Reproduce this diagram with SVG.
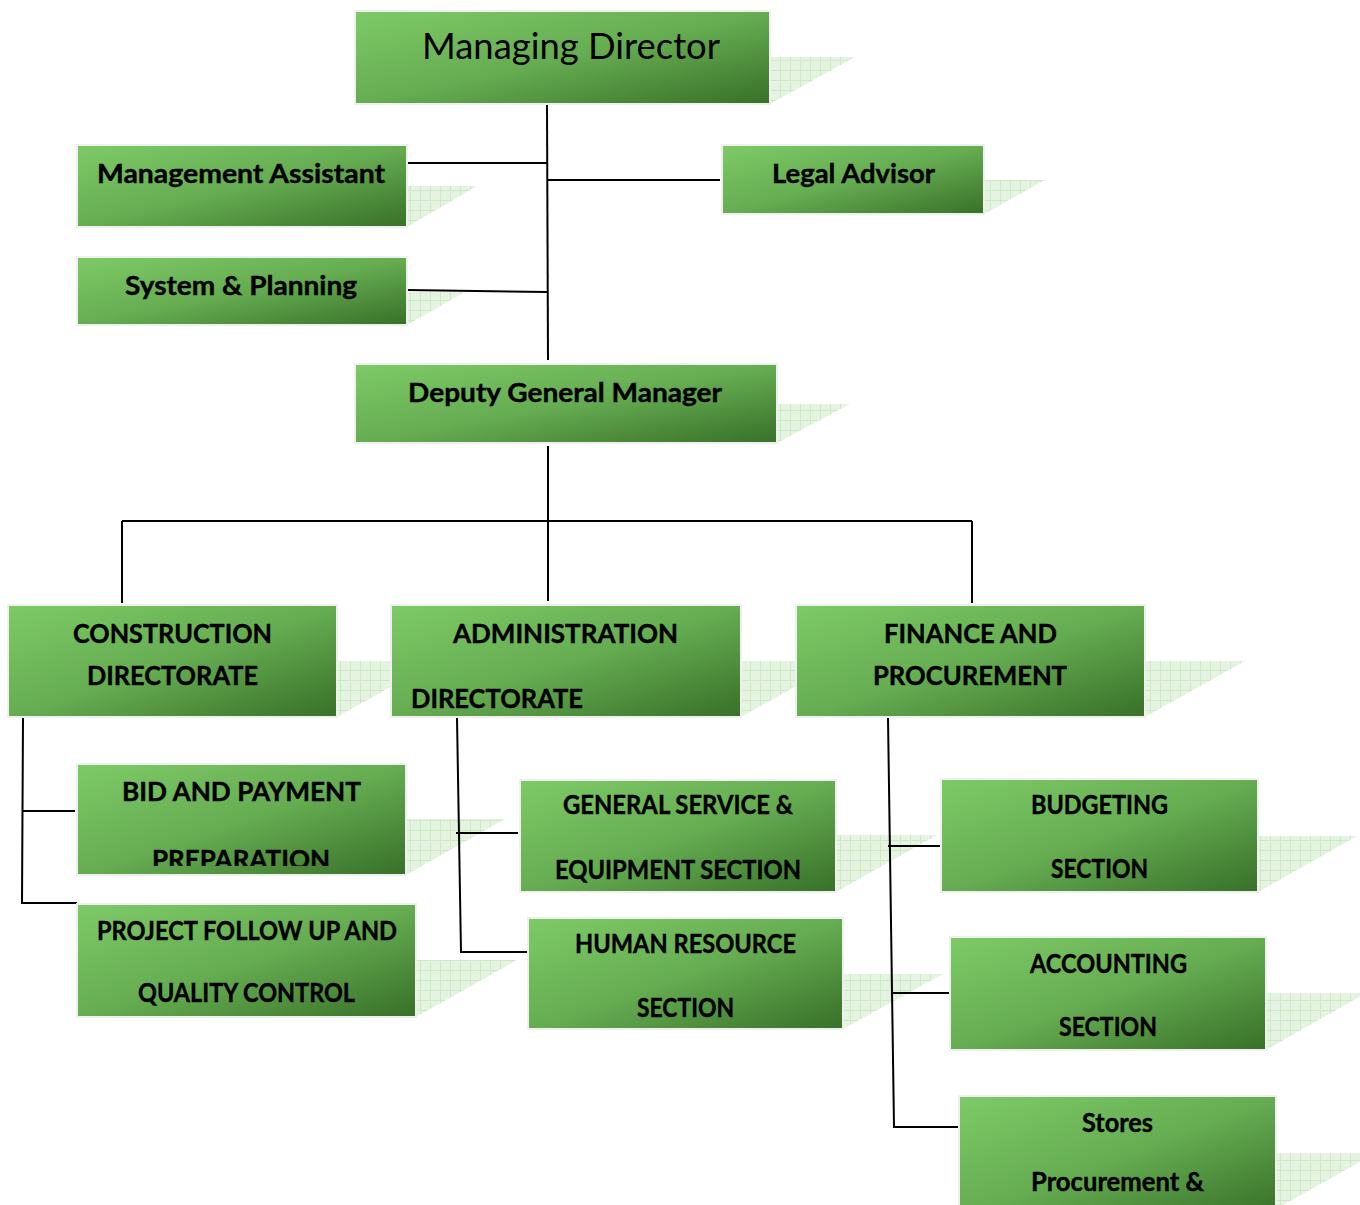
<svg xmlns="http://www.w3.org/2000/svg" width="1360" height="1205" viewBox="0 0 1360 1205">
<defs>
<linearGradient id="g" x1="0" y1="0" x2="1" y2="1">
<stop offset="0" stop-color="#7eca67"/>
<stop offset="0.5" stop-color="#66ad52"/>
<stop offset="1" stop-color="#387028"/>
</linearGradient>
<pattern id="grid" width="10" height="10" patternUnits="userSpaceOnUse">
<rect width="10" height="10" fill="#e5f4e1"/>
<path d="M0 0.5H10M0.5 0V10" stroke="#cfe8c8" stroke-width="1"/>
</pattern>
<clipPath id="clipBid"><rect x="0" y="700" width="500" height="166"/></clipPath>
</defs>
<style>
.box{fill:url(#g);stroke:#efefef;stroke-width:2}
.sh{fill:url(#grid)}
.t{font-family:Lato,"Open Sans","Liberation Sans",sans-serif;font-weight:bold;font-size:26px;fill:#000;stroke:#000;stroke-width:0.4}
.title{font-family:Lato,"Open Sans","Liberation Sans",sans-serif;font-size:36px;fill:#000}
.c{fill:none;stroke:#000;stroke-width:2}
</style>
<g id="shadows">
<polygon class="sh" points="770,57 855,57 770,104"/>
<polygon class="sh" points="407,186 477,186 407,227"/>
<polygon class="sh" points="407,292 465,292 407,325"/>
<polygon class="sh" points="984,180 1045,180 984,214"/>
<polygon class="sh" points="777,404 850,404 777,443"/>
<polygon class="sh" points="337,661 437,661 337,717"/>
<polygon class="sh" points="741,661 841,661 741,717"/>
<polygon class="sh" points="1145,661 1245,661 1145,717"/>
<polygon class="sh" points="406,819 505,819 406,875"/>
<polygon class="sh" points="416,960 517,960 416,1017"/>
<polygon class="sh" points="836,835 937,835 836,892"/>
<polygon class="sh" points="843,974 943,974 843,1029"/>
<polygon class="sh" points="1258,836 1357,836 1258,892"/>
<polygon class="sh" points="1266,993 1366,993 1266,1050"/>
<polygon class="sh" points="1276,1153 1376,1153 1276,1209"/>
</g>
<g id="connectors">
<path class="c" d="M547 105 L548 360"/>
<path class="c" d="M408 163 L547 163"/>
<path class="c" d="M547 180 L720 180"/>
<path class="c" d="M407 290 L547 292"/>
<path class="c" d="M548 446 L548 601"/>
<path class="c" d="M122 521 L972 521"/>
<path class="c" d="M122 521 L122 603"/>
<path class="c" d="M972 521 L972 603"/>
<path class="c" d="M23 718 L22 903 L77 903"/>
<path class="c" d="M23 811 L75 811"/>
<path class="c" d="M457 718 L461 952 L528 952"/>
<path class="c" d="M456 833 L518 833"/>
<path class="c" d="M888 718 L894 1127 L960 1127"/>
<path class="c" d="M888 846 L942 846"/>
<path class="c" d="M892 993 L951 993"/>
</g>
<g id="md"><rect class="box" x="355" y="11" width="415" height="93"/>
<text class="title" x="422" y="59" textLength="298" lengthAdjust="spacingAndGlyphs">Managing Director</text></g>
<g id="ma"><rect class="box" x="77" y="145" width="330" height="82"/>
<text class="t" x="97" y="183" textLength="288" lengthAdjust="spacingAndGlyphs">Management  Assistant</text></g>
<g id="sp"><rect class="box" x="77" y="257" width="330" height="68"/>
<text class="t" x="125" y="295" textLength="232" lengthAdjust="spacingAndGlyphs">System &amp; Planning</text></g>
<g id="legal"><rect class="box" x="722" y="145" width="262" height="69"/>
<text class="t" x="772" y="183" textLength="163" lengthAdjust="spacingAndGlyphs">Legal Advisor</text></g>
<g id="dgm"><rect class="box" x="355" y="364" width="422" height="79"/>
<text class="t" x="408" y="402" textLength="314" lengthAdjust="spacingAndGlyphs">Deputy General Manager</text></g>
<g id="cons"><rect class="box" x="8" y="605" width="329" height="112"/>
<text class="t" x="73" y="643" textLength="199" lengthAdjust="spacingAndGlyphs">CONSTRUCTION</text>
<text class="t" x="87" y="685" textLength="171" lengthAdjust="spacingAndGlyphs">DIRECTORATE</text></g>
<g id="admin"><rect class="box" x="391" y="605" width="350" height="112"/>
<text class="t" x="453" y="643" textLength="225" lengthAdjust="spacingAndGlyphs">ADMINISTRATION</text>
<text class="t" x="411" y="708" textLength="172" lengthAdjust="spacingAndGlyphs">DIRECTORATE</text></g>
<g id="fin"><rect class="box" x="796" y="605" width="349" height="112"/>
<text class="t" x="884" y="643" textLength="173" lengthAdjust="spacingAndGlyphs">FINANCE AND</text>
<text class="t" x="873" y="685" textLength="194" lengthAdjust="spacingAndGlyphs">PROCUREMENT</text></g>
<g id="bid"><rect class="box" x="77" y="764" width="329" height="111"/>
<text class="t" x="122" y="801" textLength="239" lengthAdjust="spacingAndGlyphs">BID AND PAYMENT</text>
<text class="t" x="152" y="869" textLength="178" lengthAdjust="spacingAndGlyphs" clip-path="url(#clipBid)">PREPARATION</text></g>
<g id="pfu"><rect class="box" x="77" y="904" width="339" height="113"/>
<text class="t" x="97" y="940" textLength="300" lengthAdjust="spacingAndGlyphs">PROJECT FOLLOW UP AND</text>
<text class="t" x="138" y="1002" textLength="217" lengthAdjust="spacingAndGlyphs">QUALITY CONTROL</text></g>
<g id="gs"><rect class="box" x="520" y="780" width="316" height="112"/>
<text class="t" x="563" y="814" textLength="230" lengthAdjust="spacingAndGlyphs">GENERAL SERVICE &amp;</text>
<text class="t" x="555" y="879" textLength="246" lengthAdjust="spacingAndGlyphs">EQUIPMENT SECTION</text></g>
<g id="hr"><rect class="box" x="528" y="918" width="315" height="111"/>
<text class="t" x="575" y="953" textLength="221" lengthAdjust="spacingAndGlyphs">HUMAN RESOURCE</text>
<text class="t" x="637" y="1017" textLength="97" lengthAdjust="spacingAndGlyphs">SECTION</text></g>
<g id="bud"><rect class="box" x="941" y="779" width="317" height="113"/>
<text class="t" x="1031" y="814" textLength="137" lengthAdjust="spacingAndGlyphs">BUDGETING</text>
<text class="t" x="1051" y="878" textLength="97" lengthAdjust="spacingAndGlyphs">SECTION</text></g>
<g id="acc"><rect class="box" x="950" y="937" width="316" height="113"/>
<text class="t" x="1030" y="973" textLength="157" lengthAdjust="spacingAndGlyphs">ACCOUNTING</text>
<text class="t" x="1059" y="1036" textLength="98" lengthAdjust="spacingAndGlyphs">SECTION</text></g>
<g id="sto"><rect class="box" x="959" y="1096" width="317" height="120"/>
<text class="t" x="1082" y="1132" textLength="71" lengthAdjust="spacingAndGlyphs">Stores</text>
<text class="t" x="1031" y="1191" textLength="173" lengthAdjust="spacingAndGlyphs">Procurement &amp;</text></g>
</svg>
